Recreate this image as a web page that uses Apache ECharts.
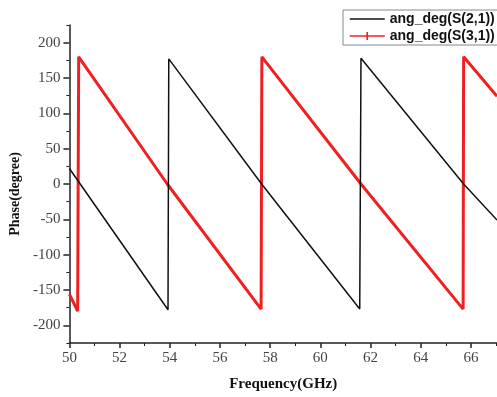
<!DOCTYPE html>
<html>
<head>
<meta charset="utf-8">
<script src="https://cdn.jsdelivr.net/npm/echarts@6/dist/echarts.min.js"></script>
<style>
  html, body { margin: 0; padding: 0; background: #fff; }
  #chart { width: 497px; height: 397px; }
</style>
</head>
<body>
<div id="chart"></div>
<script>
// phase of S(2,1), [GHz, degree]
const s21 = [
  [50, 22], [53.93, -178],
  [53.96, 177], [57.66, 0], [61.57, -177],
  [61.62, 178], [65.71, 0], [67.04, -51]
];
// phase of S(3,1)
const s31 = [
  [50, -156], [50.33, -180],
  [50.37, 180], [53.9, 0], [57.64, -177],
  [57.67, 180], [61.62, 0], [65.69, -177],
  [65.71, 180], [67.04, 124]
];
const xLabels = [50, 52, 54, 56, 58, 60, 62, 64, 66];
const xMinor = [51, 53, 55, 57, 59, 61, 63, 65, 67];
const yLabels = [-200, -150, -100, -50, 0, 50, 100, 150, 200];
const yMinor = [-225, -175, -125, -75, -25, 25, 75, 125, 175, 225];

const chart = echarts.init(document.getElementById('chart'));

const axisLine = { show: true, onZero: false, lineStyle: { color: '#222', width: 1.5 } };
const tickFont = { fontFamily: 'Liberation Serif', fontSize: 15, color: '#444' };

// small vertical marker inside a square box (only shows in the legend)
const crossMark = 'path://M0,0h0.01v0.01h-0.01z M4.25,1.5h1.5v7h-1.5z M10,10h-0.01v-0.01h0.01z';

chart.setOption({
  backgroundColor: '#fff',
  animation: false,
  grid: { left: 69, top: 25, right: 0, bottom: 54 },
  legend: {
    orient: 'vertical',
    left: 343,
    top: 10,
    padding: [2, 4, 2, 6],
    itemWidth: 35,
    itemHeight: 14,
    itemGap: 3,
    borderColor: '#888',
    borderWidth: 1,
    textStyle: { fontFamily: 'Liberation Sans', fontWeight: 'bold', fontSize: 14, color: '#111' },
    data: [
      { name: 'ang_deg(S(2,1))', itemStyle: { color: 'rgba(0,0,0,0)', borderWidth: 0 }, lineStyle: { width: 1.5 } },
      { name: 'ang_deg(S(3,1))', lineStyle: { width: 1.5 } }
    ]
  },
  xAxis: [
    {
      type: 'value', min: 50, max: 67.04,
      name: 'Frequency(GHz)', nameLocation: 'middle', nameGap: 34,
      nameTextStyle: { fontFamily: 'Liberation Serif', fontWeight: 'bold', fontSize: 15, color: '#111' },
      axisLine: axisLine,
      axisTick: { show: true, length: 5, customValues: xLabels, lineStyle: { color: '#222', width: 1.5 } },
      axisLabel: { ...tickFont, margin: 8, customValues: xLabels },
      splitLine: { show: false }
    },
    {
      type: 'value', min: 50, max: 67.04, position: 'bottom',
      axisLine: { show: false, onZero: false },
      axisTick: { show: true, length: 3, customValues: xMinor, lineStyle: { color: '#222', width: 1 } },
      axisLabel: { show: false },
      splitLine: { show: false }
    }
  ],
  yAxis: [
    {
      type: 'value', min: -225, max: 225,
      name: 'Phase(degree)', nameLocation: 'middle', nameGap: 36,
      nameTextStyle: { fontFamily: 'Liberation Serif', fontWeight: 'bold', fontSize: 14, color: '#111', padding: [0, 20, 0, 0] },
      axisLine: axisLine,
      axisTick: { show: true, length: 6, customValues: yLabels, lineStyle: { color: '#222', width: 1.5 } },
      axisLabel: { ...tickFont, margin: 9, customValues: yLabels },
      splitLine: { show: false }
    },
    {
      type: 'value', min: -225, max: 225, position: 'left',
      axisLine: { show: false, onZero: false },
      axisTick: { show: true, length: 3, customValues: yMinor, lineStyle: { color: '#222', width: 1 } },
      axisLabel: { show: false },
      splitLine: { show: false }
    }
  ],
  series: [
    {
      name: 'ang_deg(S(2,1))',
      type: 'line',
      data: s21,
      symbol: 'none',
      lineStyle: { color: '#111', width: 1.5 },
      itemStyle: { color: '#111' },
      z: 3
    },
    {
      name: 'ang_deg(S(3,1))',
      type: 'line',
      data: s31,
      symbol: crossMark,
      showSymbol: false,
      lineStyle: { color: '#f02020', width: 3 },
      itemStyle: { color: '#f02020' },
      z: 2
    }
  ]
});
</script>
</body>
</html>
